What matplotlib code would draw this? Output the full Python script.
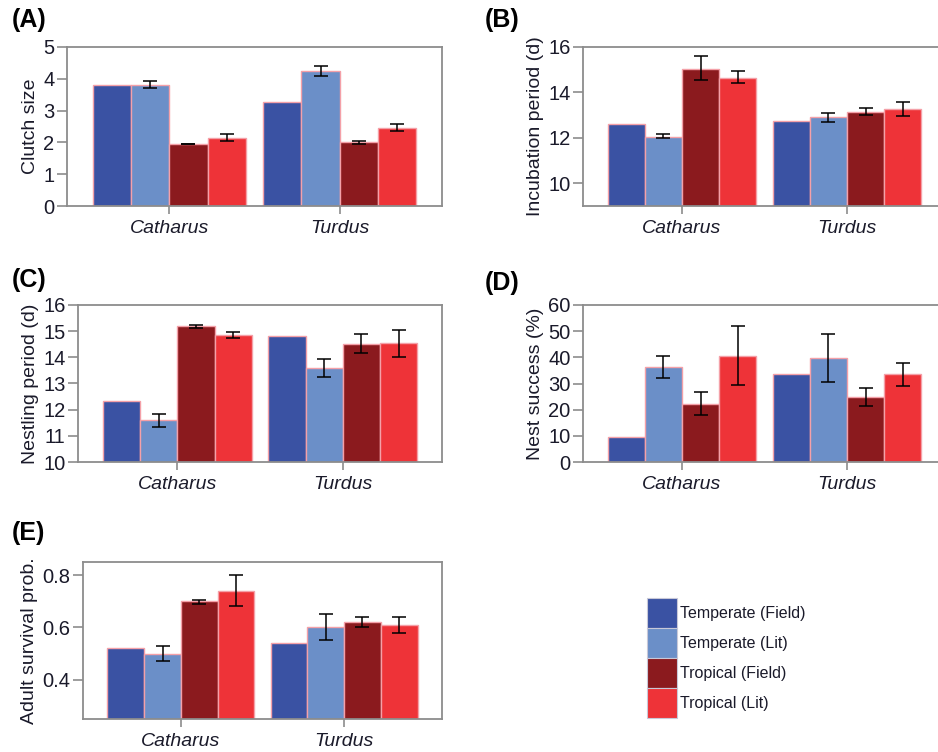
import matplotlib
matplotlib.use("Agg")
import matplotlib.pyplot as plt
from matplotlib.patches import Patch
import numpy as np

plt.rcParams['font.family'] = ['Liberation Sans', 'DejaVu Sans']

genera = ["Catharus", "Turdus"]
groups = ["Temperate (Field)", "Temperate (Lit)", "Tropical (Field)", "Tropical (Lit)"]
colors = ["#3a52a3", "#6b8fc8", "#8b1a1e", "#ee3338"]

# values: [Catharus, Turdus] per group; errors as (low, high) or None
clutch = [[3.8, 3.27], [3.8, 4.25], [1.95, 2.0], [2.15, 2.45]]
clutch_lo = [[None, None], [3.70, 4.10], [1.94, 1.95], [2.05, 2.35]]
clutch_hi = [[None, None], [3.92, 4.40], [1.96, 2.05], [2.25, 2.57]]

incub = [[12.6, 12.75], [12.05, 12.9], [15.05, 13.15], [14.65, 13.25]]
incub_lo = [[None, None], [12.0, 12.7], [14.55, 13.0], [14.4, 12.95]]
incub_hi = [[None, None], [12.15, 13.1], [15.6, 13.3], [14.95, 13.6]]

nestl = [[12.35, 14.8], [11.6, 13.58], [15.18, 14.5], [14.85, 14.55]]
nestl_lo = [[None, None], [11.35, 13.25], [15.12, 14.15], [14.75, 14.0]]
nestl_hi = [[None, None], [11.85, 13.92], [15.23, 14.9], [14.98, 15.05]]

success = [[9.5, 33.5], [36.3, 39.7], [22.3, 24.7], [40.7, 33.5]]
success_lo = [[None, None], [32.0, 30.5], [18.0, 21.3], [29.5, 29.0]]
success_hi = [[None, None], [40.5, 49.0], [26.8, 28.2], [52.0, 37.8]]

surv = [[0.52, 0.54], [0.50, 0.60], [0.70, 0.62], [0.74, 0.61]]
surv_lo = [[None, None], [0.47, 0.55], [0.69, 0.60], [0.68, 0.58]]
surv_hi = [[None, None], [0.53, 0.65], [0.705, 0.64], [0.80, 0.64]]

W, H = 938, 752
fig = plt.figure(figsize=(W / 100, H / 100), dpi=100)

def ax_px(l, t, r, b):
    return fig.add_axes([l / W, 1 - b / H, (r - l) / W, (b - t) / H])

panels = [
    ("(A)", (67, 47, 442, 206), clutch, clutch_lo, clutch_hi, (0, 5), [0, 1, 2, 3, 4, 5], "Clutch size", (12, 20)),
    ("(B)", (583, 47, 946, 206), incub, incub_lo, incub_hi, (9, 16), [10, 12, 14, 16], "Incubation period (d)", (485, 20)),
    ("(C)", (78, 305, 442, 462), nestl, nestl_lo, nestl_hi, (10, 16), [10, 11, 12, 13, 14, 15, 16], "Nestling period (d)", (12, 280)),
    ("(D)", (583, 305, 946, 462), success, success_lo, success_hi, (0, 60), [0, 10, 20, 30, 40, 50, 60], "Nest success (%)", (485, 283)),
    ("(E)", (83, 562, 442, 719), surv, surv_lo, surv_hi, (0.25, 0.85), [0.4, 0.6, 0.8], "Adult survival prob.", (12, 533)),
]

x = np.array([1.0, 2.0])
bw = 0.225
spine_c = "#8c8c8c"
text_c = "#1a1a2a"

for lab, box, vals, lo, hi, ylim, yt, ylab, lpos in panels:
    ax = ax_px(*box)
    for i in range(4):
        xs = x + (i - 1.5) * bw
        ax.bar(xs, vals[i], width=bw, color=colors[i], edgecolor="#f4a0a8",
               linewidth=1.0, bottom=0, zorder=2)
        for j in range(2):
            if lo[i][j] is not None:
                ax.errorbar(xs[j], vals[i][j],
                            yerr=[[vals[i][j] - lo[i][j]], [hi[i][j] - vals[i][j]]],
                            fmt="none", ecolor="black", elinewidth=1.1,
                            capsize=5, capthick=1.1, zorder=3)
    ax.set_xlim(0.4, 2.6)
    ax.set_ylim(*ylim)
    ax.set_yticks(yt)
    ax.set_yticklabels([("%g" % v) if v >= 1 or v == 0 else ("%.1f" % v) for v in yt])
    ax.set_xticks(x)
    ax.set_xticklabels(genera, fontstyle="italic", fontsize=14, color=text_c)
    ax.tick_params(axis="y", labelsize=14.5, colors=spine_c, labelcolor=text_c,
                   length=7, width=1.2, pad=2)
    ax.tick_params(axis="x", colors=spine_c, labelcolor=text_c,
                   length=6, width=1.2, pad=4)
    for s in ax.spines.values():
        s.set_color(spine_c)
        s.set_linewidth(1.3)
    ax.set_ylabel(ylab, fontsize=14, color=text_c, labelpad=3)
    fig.text(lpos[0] / W, 1 - lpos[1] / H, lab, fontsize=18, fontweight="bold",
             va="center", ha="left", color="black")

handles = [Patch(facecolor=c, edgecolor="#c8c8d8", linewidth=0.8) for c in colors]
leg = fig.legend(handles, groups, loc="upper left",
                 bbox_to_anchor=(647 / W, 1 - 598 / H), frameon=False,
                 fontsize=11.5, handlelength=1.88, handleheight=2.51,
                 handletextpad=0.2, labelspacing=0.0, borderpad=0.0,
                 borderaxespad=0.0)
for t in leg.get_texts():
    t.set_color(text_c)

fig.savefig("out.png", dpi=100)
